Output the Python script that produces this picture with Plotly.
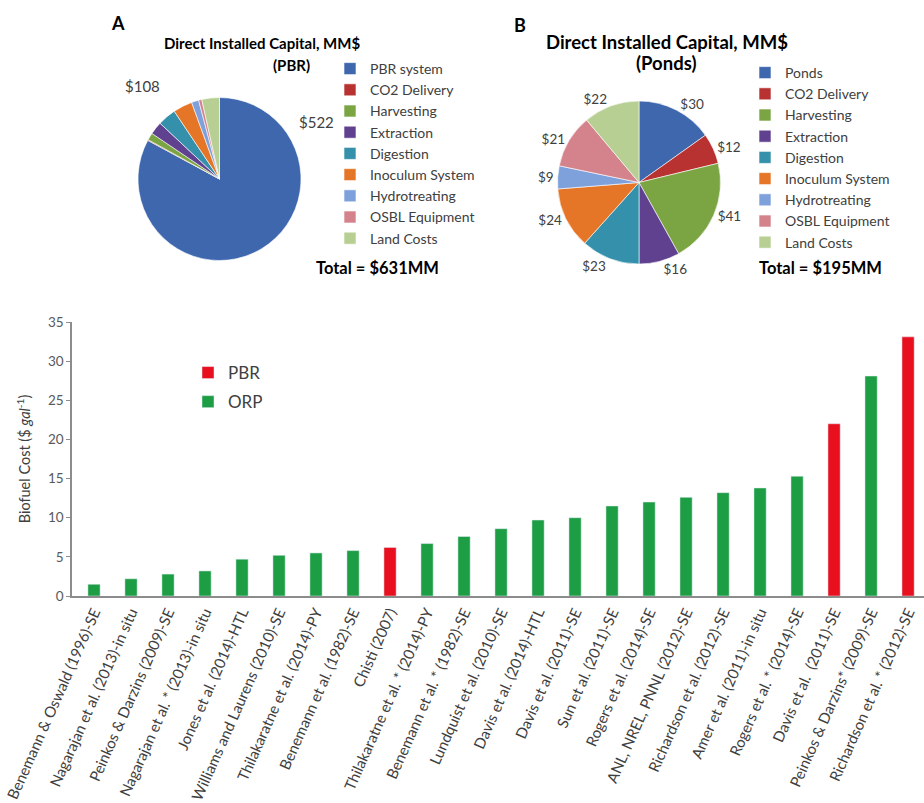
import plotly.graph_objects as go

# ---- Panel A: direct installed capital, PBR case (MM$) ----
pbr_components = ["PBR system", "CO2 Delivery", "Harvesting", "Extraction", "Digestion",
                  "Inoculum System", "Hydrotreating", "OSBL Equipment", "Land Costs"]
pbr_capital = [522, 1, 9, 16, 23, 24, 9, 4, 22]
pbr_total = 631

# ---- Panel B: direct installed capital, open ponds case (MM$) ----
pond_components = ["Ponds", "CO2 Delivery", "Harvesting", "Extraction", "Digestion",
                   "Inoculum System", "Hydrotreating", "OSBL Equipment", "Land Costs"]
pond_capital = [30, 12, 41, 16, 23, 24, 9, 21, 22]
pond_total = 195

# ---- Panel C: biofuel cost by study ----
studies = [
    "Benemann & Oswald (1996)-SE",
    "Nagarajan et al. (2013)-in situ",
    "Peinkos & Darzins (2009)-SE",
    "Nagarajan et al. * (2013)-in situ",
    "Jones et al. (2014)-HTL",
    "Williams and Laurens (2010)-SE",
    "Thilakaratne et al. (2014)-PY",
    "Benemann et al. (1982)-SE",
    "Chisti (2007)",
    "Thilakaratne et al. * (2014)-PY",
    "Benemann et al. * (1982)-SE",
    "Lundquist et al. (2010)-SE",
    "Davis et al. (2014)-HTL",
    "Davis et al. (2011)-SE",
    "Sun et al. (2011)-SE",
    "Rogers et al. (2014)-SE",
    "ANL, NREL, PNNL (2012)-SE",
    "Richardson et al. (2012)-SE",
    "Amer et al. (2011)-in situ",
    "Rogers et al. * (2014)-SE",
    "Davis et al.  (2011)-SE",
    "Peinkos & Darzins* (2009)-SE",
    "Richardson et al. * (2012)-SE",
]
biofuel_cost = [1.5, 2.2, 2.8, 3.2, 4.7, 5.2, 5.5, 5.8, 6.2, 6.7, 7.6, 8.6, 9.7,
                10.0, 11.5, 12.0, 12.6, 13.2, 13.8, 15.3, 22.0, 28.1, 33.1]
system_type = ["ORP"] * 8 + ["PBR"] + ["ORP"] * 11 + ["PBR", "ORP", "PBR"]

slice_colors = ["#3E67AE", "#B83232", "#7BA443", "#60418F", "#3590AB",
                "#E57628", "#7EA1DC", "#D4838C", "#B7CF92"]
type_colors = {"PBR": "#E8101E", "ORP": "#1E9E44"}

W, H = 924, 803
FONT = "Lato"
TXT = "#404040"


def px(x):
    return x / W


def py(y):
    return 1 - y / H


fig = go.Figure()

# Pie A
fig.add_trace(go.Pie(
    labels=pbr_components, values=pbr_capital, sort=False, direction="clockwise",
    marker=dict(colors=slice_colors, line=dict(color="white", width=0.6)),
    textinfo="none", hoverinfo="label+value",
    domain=dict(x=[px(138), px(301)], y=[py(260.5), py(97.5)]),
    legend="legend", showlegend=True,
))

# Pie B (legend keys padded with a space so they stay separate from pie A's keys)
fig.add_trace(go.Pie(
    labels=[c + " " for c in pond_components], values=pond_capital,
    sort=False, direction="clockwise",
    marker=dict(colors=slice_colors, line=dict(color="white", width=0.6)),
    texttemplate="$%{value}", textposition="outside",
    textfont=dict(family=FONT, size=13.5, color=TXT),
    hoverinfo="label+value",
    domain=dict(x=[px(557), px(721)], y=[py(264), py(101)]),
    legend="legend2", showlegend=True,
))

# Bars, one trace per system type
for t in ["PBR", "ORP"]:
    xs = [s for s, k in zip(studies, system_type) if k == t]
    ys = [v for v, k in zip(biofuel_cost, system_type) if k == t]
    fig.add_trace(go.Bar(
        x=xs, y=ys, name=t, width=0.33, marker_color=type_colors[t],
        legend="legend3", legendgroup=t,
    ))

annotations = [
    dict(text="<b>A</b>", x=px(118), y=py(23), font=dict(size=18, color="black")),
    dict(text="<b>Direct Installed Capital, MM$</b>", x=px(262), y=py(43), font=dict(size=15, color="black")),
    dict(text="<b>(PBR)</b>", x=px(291), y=py(65), font=dict(size=15, color="black")),
    dict(text="<b>B</b>", x=px(520), y=py(25), font=dict(size=18, color="black")),
    dict(text="<b>Direct Installed Capital, MM$</b>", x=px(667), y=py(42), font=dict(size=18.5, color="black")),
    dict(text="<b>(Ponds)</b>", x=px(666), y=py(63), font=dict(size=18.5, color="black")),
    dict(text=f"<b>Total = ${pbr_total}MM</b>", x=px(377), y=py(268), font=dict(size=16.5, color="black")),
    dict(text=f"<b>Total = ${pond_total}MM</b>", x=px(820), y=py(268), font=dict(size=16.5, color="black")),
    dict(text=f"${sum(pbr_capital[1:])}", x=px(142), y=py(86), font=dict(size=15, color=TXT)),
    dict(text=f"${pbr_capital[0]}", x=px(316), y=py(122), font=dict(size=15, color=TXT)),
]
for a in annotations:
    a.update(xref="paper", yref="paper", showarrow=False, xanchor="center", yanchor="middle")
    a["font"]["family"] = FONT

fig.update_layout(
    width=W, height=H,
    margin=dict(l=0, r=0, t=0, b=0, autoexpand=False),
    paper_bgcolor="white", plot_bgcolor="white",
    font=dict(family=FONT, color=TXT),
    barmode="overlay",
    annotations=annotations,
    legend=dict(x=px(330), y=py(53), xanchor="left", yanchor="top",
                font=dict(family=FONT, size=14, color=TXT), bgcolor="rgba(0,0,0,0)"),
    legend2=dict(x=px(745), y=py(57), xanchor="left", yanchor="top",
                 font=dict(family=FONT, size=14, color=TXT), bgcolor="rgba(0,0,0,0)"),
    legend3=dict(x=px(188), y=py(355), xanchor="left", yanchor="top",
                 font=dict(family=FONT, size=17, color=TXT), bgcolor="rgba(0,0,0,0)",
                 tracegroupgap=4),
    xaxis=dict(
        domain=[px(72), 1], range=[-0.595, 22.43], automargin=False,
        type="category", categoryorder="array", categoryarray=studies,
        tickangle=-66, tickfont=dict(family=FONT, size=15, color=TXT),
        showline=True, linecolor="#8C8C8C", linewidth=1.5, showgrid=False, ticks="",
    ),
    yaxis=dict(
        domain=[py(596), py(322)], range=[0, 35], dtick=5, automargin=False,
        ticks="outside", ticklen=4, tickcolor="#8C8C8C",
        tickfont=dict(family=FONT, size=13.5, color="#595959"),
        showline=True, linecolor="#8C8C8C", linewidth=1.5, showgrid=False, zeroline=False,
        title=dict(text="Biofuel Cost ($ <i>gal</i><sup>-1</sup>)",
                   font=dict(family=FONT, size=14.5, color=TXT), standoff=14),
    ),
)

fig.write_html("out.html")
